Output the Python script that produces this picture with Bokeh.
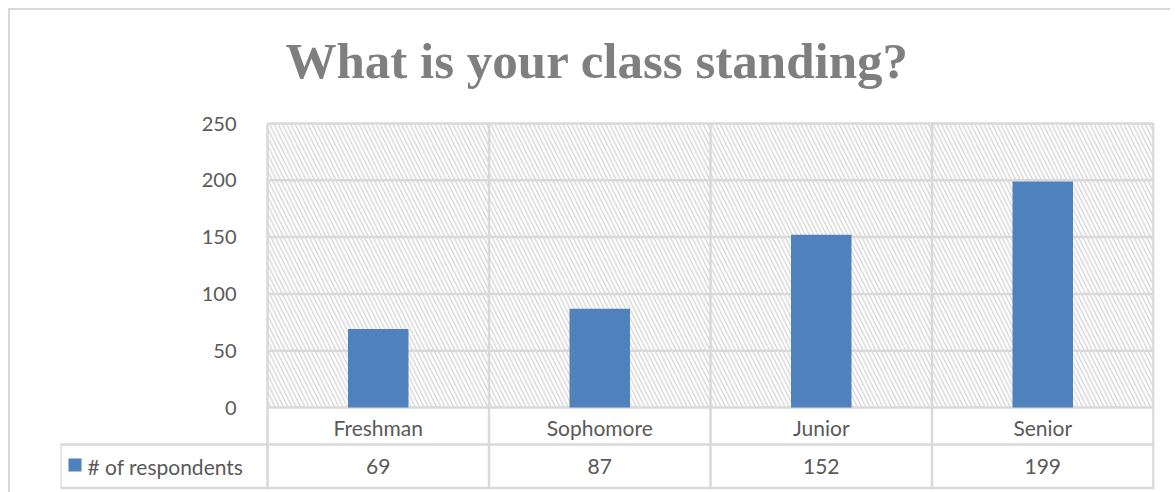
from bokeh.plotting import figure
from bokeh.models import (Range1d, FixedTicker, BoxAnnotation, ColumnDataSource,
                          LinearAxis)
from bokeh.layouts import column
from bokeh.embed import file_html
from bokeh.resources import INLINE
from bokeh.core.properties import value

# ---- data ----
categories = ["Freshman", "Sophomore", "Junior", "Senior"]
respondents = [69, 87, 152, 199]
series_name = "# of respondents"
y_ticks = [0, 50, 100, 150, 200, 250]
title_text = "What is your class standing?"

BAR_COLOR = "#4F81BD"
GRID = "#d9d9d9"
TXT = "#595959"
FONT = "Lato"

n = len(categories)
xc = [i + 0.5 for i in range(n)]
src = ColumnDataSource(dict(x=xc, cat=categories, val=respondents,
                            vtxt=[str(v) for v in respondents]))

# layout geometry (page pixels)
F_LEFT, F_RIGHT, F_TOP, F_BOT = 60, 1154, 110, 489
PLOT_LEFT, PLOT_TOP, ZERO_Y = 267, 123, 407
unit = (1153 - PLOT_LEFT) / n
x_start = -(PLOT_LEFT - F_LEFT) / unit
x_end = n + (F_RIGHT - 1153) / unit
y_max = y_ticks[-1]
px_per_val = (ZERO_Y - PLOT_TOP) / y_max
y_start = -(F_BOT - ZERO_Y) / px_per_val
y_end = y_max + (PLOT_TOP - F_TOP) / px_per_val

p = figure(width=1160, height=482, output_backend="svg", toolbar_location=None,
           x_range=Range1d(x_start, x_end), y_range=Range1d(y_start, y_end),
           x_axis_location=None, y_axis_location=None,
           min_border_left=F_LEFT - 10, min_border_right=1170 - F_RIGHT,
           min_border_top=F_TOP - 10, min_border_bottom=492 - F_BOT,
           title=title_text)
for g in list(p.grid):
    g.visible = False
p.extra_y_ranges = {"tbl": Range1d(0, F_BOT - F_TOP)}
p.outline_line_color = None
p.background_fill_color = "white"
p.border_fill_color = "white"

p.title.text_font = "Liberation Serif"
p.title.text_font_size = "51px"
p.title.text_font_style = "bold"
p.title.text_color = "#7f7f7f"
p.title.align = "left"
p.title.vertical_align = "top"
p.title.offset = 285 - F_LEFT
p.title.standoff = 40

# hatched plot area
p.add_layout(BoxAnnotation(left=0, right=n, bottom=0, top=y_max,
                           fill_color=None, line_color=None, hatch_pattern="\\",
                           hatch_color="#d6d6d6", hatch_scale=8.5, hatch_weight=1.4,
                           level="image"))

# y axis
yax = LinearAxis(ticker=FixedTicker(ticks=y_ticks), fixed_location=0,
                 axis_line_color=None, major_tick_line_color=None,
                 minor_tick_line_color=None, major_label_text_font=FONT,
                 major_label_text_font_size="20px", major_label_text_color=TXT,
                 major_label_standoff=25)
p.add_layout(yax, "left")

# horizontal grid lines (only across the plot area)
p.segment(x0=[0] * len(y_ticks), x1=[n] * len(y_ticks), y0=y_ticks, y1=y_ticks,
          line_color=GRID, line_width=2.5)

# ---- data table (table range in pixels up from the frame bottom) ----
T = F_BOT
y_mid, y_bot = T - 444, T - 487.5
bounds = list(range(n + 1))
# vertical category boundaries through plot and table
p.segment(x0=bounds, x1=bounds, y0=[y_max] * len(bounds),
          y1=[y_start] * len(bounds), line_color=GRID, line_width=2.5)
p.segment(x0=[x_start, x_start, x_start], x1=[n, n, x_start],
          y0=[y_mid, y_bot, y_bot], y1=[y_mid, y_bot, y_mid],
          line_color=GRID, line_width=2.5, y_range_name="tbl")

p.text(x="x", y=T - 426.5, text="cat", source=src, text_font=value(FONT),
       text_font_size="21px", text_color=TXT, text_align="center",
       text_baseline="middle", y_range_name="tbl")
p.text(x="x", y=T - 466, text="vtxt", source=src, text_font=value(FONT),
       text_font_size="21px", text_color=TXT, text_align="center",
       text_baseline="middle", y_range_name="tbl")

p.scatter(x=[(74.5 - PLOT_LEFT) / unit], y=[T - 464.5], marker="square", size=13,
          fill_color=BAR_COLOR, line_color=None, y_range_name="tbl")
p.text(x=[(87 - PLOT_LEFT) / unit], y=[T - 466], text=[series_name],
       text_font=value(FONT), text_font_size="21px", text_color=TXT,
       text_align="left", text_baseline="middle", y_range_name="tbl")

# bars
p.vbar(x="x", top="val", width=0.273, source=src, fill_color=BAR_COLOR,
       line_color=None)

layout = column(p, spacing=0,
                styles={"margin-left": "8px", "margin-top": "8px",
                        "border-left": "2px solid #d9d9d9",
                        "border-top": "2px solid #d9d9d9"})

open("out.html", "w").write(file_html(layout, INLINE))
